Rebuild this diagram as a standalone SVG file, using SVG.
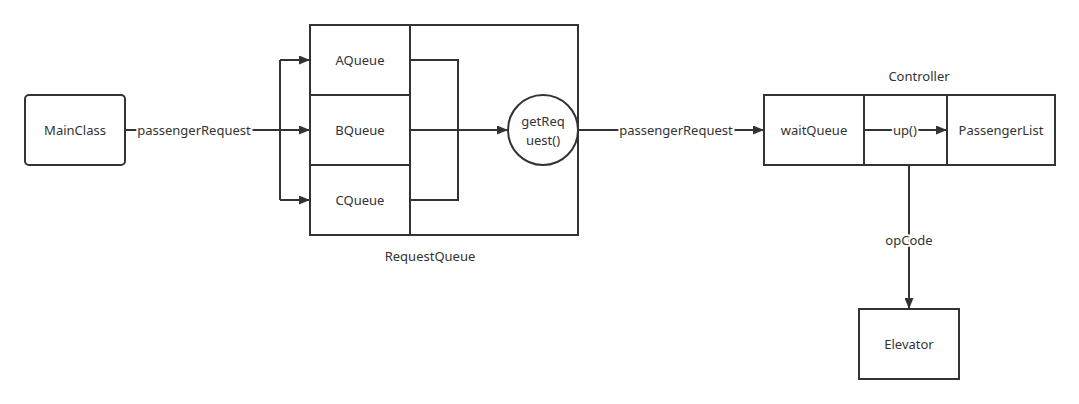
<svg xmlns="http://www.w3.org/2000/svg" width="1079" height="404" viewBox="0 0 1079 404">
<style>
.box{fill:#fff;stroke:#333;stroke-width:2}
.ln{fill:none;stroke:#333;stroke-width:2}
text{font-family:"Noto Sans","Open Sans",sans-serif;font-size:13px;fill:#333;text-anchor:middle;dominant-baseline:central}
.lbl{paint-order:stroke;stroke:#fff;stroke-width:4px}
</style>
<defs>
<marker id="arr" markerWidth="11" markerHeight="9" refX="11" refY="4.5" orient="auto" markerUnits="userSpaceOnUse">
<path d="M0,0 L11,4.5 L0,9 Z" fill="#333"/>
</marker>
</defs>
<rect width="1079" height="404" fill="#fff"/>
<g id="MainClass"><rect class="box" x="25" y="95" width="100" height="70" rx="4"/><text x="75" y="130">MainClass</text></g>
<g id="RequestQueue"><rect class="box" x="310" y="25" width="268" height="210"/><text x="430" y="256">RequestQueue</text></g>
<g id="AQueue"><rect class="box" x="310" y="25" width="100" height="70"/><text x="360" y="60">AQueue</text></g>
<g id="BQueue"><rect class="box" x="310" y="95" width="100" height="70"/><text x="360" y="130">BQueue</text></g>
<g id="CQueue"><rect class="box" x="310" y="165" width="100" height="70"/><text x="360" y="200">CQueue</text></g>
<g id="Controller"><rect class="box" x="764" y="95" width="291" height="70"/><text x="919" y="76">Controller</text></g>
<g id="waitQueue"><rect class="box" x="764" y="95" width="100" height="70"/><text x="814" y="130">waitQueue</text></g>
<g id="PassengerList"><rect class="box" x="947" y="95" width="108" height="70"/><text x="1001" y="130">PassengerList</text></g>
<g id="Elevator"><rect class="box" x="859" y="309" width="100" height="70"/><text x="909" y="344">Elevator</text></g>
<g id="connectors">
<path class="ln" d="M125,130 H280"/>
<path class="ln" d="M280,60 V200"/>
<path class="ln" d="M280,60 H310" marker-end="url(#arr)"/>
<path class="ln" d="M280,130 H310" marker-end="url(#arr)"/>
<path class="ln" d="M280,200 H310" marker-end="url(#arr)"/>
<text class="lbl" x="194" y="130">passengerRequest</text>
<path class="ln" d="M410,60 H458 V200 H410"/>
<path class="ln" d="M410,130 H508" marker-end="url(#arr)"/>
<path class="ln" d="M578,130 H764" marker-end="url(#arr)"/>
<text class="lbl" x="676" y="130">passengerRequest</text>
<path class="ln" d="M864,130 H947" marker-end="url(#arr)"/>
<text class="lbl" x="905" y="130">up()</text>
<path class="ln" d="M909,165 V309" marker-end="url(#arr)"/>
<text class="lbl" x="909" y="240">opCode</text>
</g>
<g id="getRequest"><circle class="box" cx="543" cy="130" r="35"/><text x="543" y="121">getReq</text><text x="543" y="140">uest()</text></g>
</svg>
